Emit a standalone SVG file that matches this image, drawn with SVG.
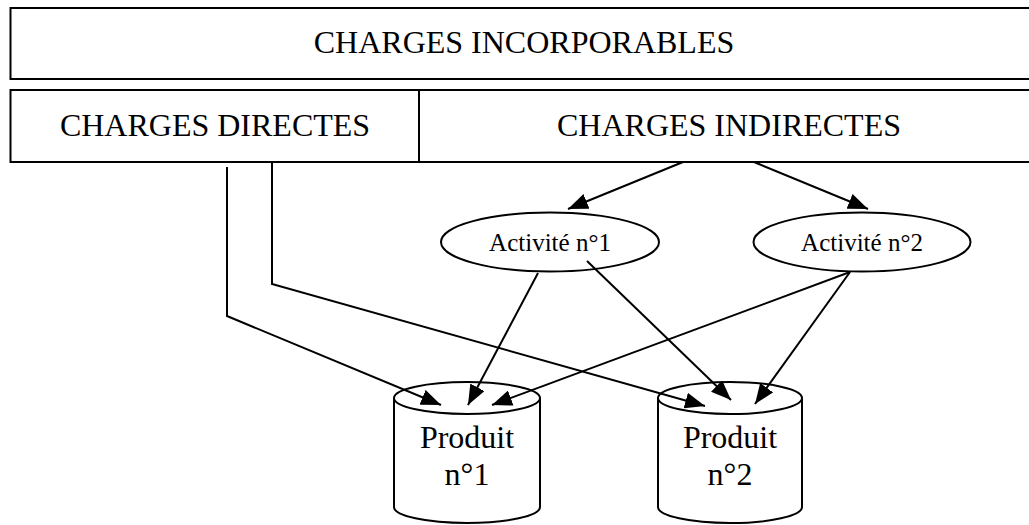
<svg xmlns="http://www.w3.org/2000/svg" width="1029" height="525" viewBox="0 0 1029 525">
<style>
.s{fill:#fff;stroke:#000;stroke-width:2}
.t{font-family:"Liberation Serif","Times New Roman",serif;fill:#000;text-anchor:middle}
.big{font-size:32px}
.sm{font-size:25px}
.c{fill:none;stroke:#000;stroke-width:2}
</style>
<defs>
<marker id="ah" viewBox="0 0 10 10" refX="10" refY="5" markerWidth="10" markerHeight="10" markerUnits="userSpaceOnUse" orient="auto">
<path d="M0,0 L10,5 L0,10 z" fill="#000"/>
</marker>
<marker id="a" viewBox="0 0 20 16" refX="20" refY="8" markerWidth="20" markerHeight="16" markerUnits="userSpaceOnUse" orient="auto">
<path d="M0,0 L20,8 L0,16 z" fill="#000"/>
</marker>
</defs>
<rect width="1029" height="525" fill="#fff"/>
<g id="charges-incorporables">
<rect class="s" x="10.5" y="8" width="1030" height="71"/>
<text class="t big" x="524" y="53">CHARGES INCORPORABLES</text>
</g>
<g id="charges-directes">
<rect class="s" x="10.5" y="90" width="408.5" height="72"/>
<text class="t big" x="215" y="136">CHARGES DIRECTES</text>
</g>
<g id="charges-indirectes">
<rect class="s" x="419" y="90" width="622" height="72"/>
<text class="t big" x="729" y="136">CHARGES INDIRECTES</text>
</g>
<g id="activite-1">
<ellipse class="s" cx="550" cy="242" rx="109" ry="29.5"/>
<text class="t sm" x="550" y="251">Activité n°1</text>
</g>
<g id="activite-2">
<ellipse class="s" cx="862" cy="242" rx="108.5" ry="29.5"/>
<text class="t sm" x="862" y="251">Activité n°2</text>
</g>
<g id="produit-1">
<path class="s" d="M394,398 L394,507 A73,16 0 0 0 540,507 L540,398"/>
<ellipse class="s" cx="467" cy="398" rx="73" ry="16"/>
<text class="t big" x="467" y="448">Produit</text>
<text class="t big" x="467" y="485">n°1</text>
</g>
<g id="produit-2">
<path class="s" d="M658,398 L658,507 A72,16 0 0 0 802,507 L802,398"/>
<ellipse class="s" cx="730" cy="398" rx="72" ry="16"/>
<text class="t big" x="730" y="448">Produit</text>
<text class="t big" x="730" y="485">n°2</text>
</g>
<g id="connectors">
<line class="c" x1="683" y1="162" x2="568" y2="209" marker-end="url(#a)"/>
<line class="c" x1="754" y1="162" x2="868" y2="209" marker-end="url(#a)"/>
<polyline class="c" points="227,167 227,316 441,405" marker-end="url(#a)"/>
<polyline class="c" points="272,162 272,284 705,406" marker-end="url(#a)"/>
<line class="c" x1="538" y1="273" x2="468" y2="405" marker-end="url(#a)"/>
<line class="c" x1="850" y1="272" x2="492" y2="405" marker-end="url(#a)"/>
<line class="c" x1="587" y1="261" x2="731" y2="400" marker-end="url(#a)"/>
<line class="c" x1="850" y1="272" x2="755" y2="404" marker-end="url(#a)"/>
</g>
</svg>
